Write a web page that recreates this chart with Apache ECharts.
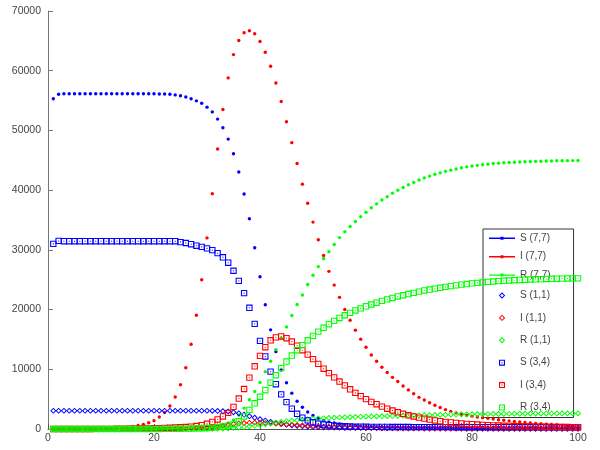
<!DOCTYPE html>
<html><head><meta charset="utf-8">
<script src="https://cdn.jsdelivr.net/npm/echarts@6/dist/echarts.min.js"></script>
<style>html,body{margin:0;padding:0;background:#fff}#c{width:600px;height:450px}</style>
</head><body><div id="c"></div>
<script>
// x positions (time steps 1..100)
const days = Array.from({length: 100}, (_, i) => i + 1);
const xTicks = [0, 20, 40, 60, 80, 100];
const yTicks = [0, 10000, 20000, 30000, 40000, 50000, 60000, 70000];
const names = ['S (7,7)', 'I (7,7)', 'R (7,7)', 'S (1,1)', 'I (1,1)', 'R (1,1)', 'S (3,4)', 'I (3,4)', 'R (3,4)'];

const S77 = [55300,56050,56150,56150,56150,56150,56150,56150,56150,56150,
56150,56150,56150,56150,56150,56150,56150,56150,56150,56150,
56100,56100,56050,55950,55800,55600,55300,54950,54550,53900,
53100,51900,50450,48550,46100,43050,39350,35200,30350,25500,
20800,16600,12950,9900,7750,6000,4650,3650,2850,2250,
1800,1450,1200,1000,850,740,650,580,520,470,
430,400,370,350,330,315,300,290,280,272,
265,260,255,250,246,242,238,235,232,229,
226,224,222,220,218,216,214,212,211,210,
209,208,207,206,205,204,203,202,201,200];

const I77 = [5,7,9,12,16,22,30,40,55,75,
100,135,180,240,320,430,580,780,1050,1400,
2000,2750,3850,5350,7400,10250,14200,19050,25000,32000,
39400,46900,53500,58800,62700,65050,66350,66700,66200,64900,
63100,60750,57950,54850,51450,47950,44450,41000,37800,34650,
31700,29050,26400,24100,22050,20000,18200,16550,15050,13700,
12400,11350,10350,9450,8650,7950,7200,6550,5900,5300,
4850,4400,3980,3600,3250,2950,2700,2480,2300,2150,
2020,1900,1780,1670,1560,1460,1360,1270,1180,1100,
1020,950,880,820,760,700,650,600,555,510];

const R77 = [0,0,0,0,0,0,0,0,0,0,
0,0,0,0,1,2,3,4,5,6,
8,10,14,20,28,40,60,90,130,200,
300,450,680,1000,1500,2350,3500,4900,6300,7800,
9600,11350,13300,15200,17100,19000,20850,22450,24200,25750,
27200,28500,29700,30900,32050,33050,33900,34750,35550,36300,
37050,37700,38350,38900,39500,40000,40450,40900,41300,41700,
42050,42350,42650,42900,43150,43350,43550,43750,43900,44050,
44150,44250,44350,44450,44520,44580,44630,44680,44720,44760,
44790,44820,44850,44870,44890,44910,44930,44940,44950,44960];

const S11 = [3060,3060,3060,3060,3060,3060,3060,3060,3060,3060,
3060,3060,3060,3060,3060,3060,3060,3060,3060,3060,
3060,3060,3060,3060,3060,3060,3060,3060,3060,3060,
3050,3030,2990,2920,2800,2620,2400,2150,1900,1650,
1420,1200,1020,860,730,620,530,460,400,350,
310,280,255,235,220,205,195,185,178,170,
165,160,156,152,149,146,143,141,139,137,
135,133,132,131,130,129,128,127,126,125,
124,123,122,121,120,120,119,119,118,118,
117,117,116,116,115,115,115,114,114,114];

const I11 = [0,0,0,0,0,0,0,0,1,1,
1,2,2,3,4,5,7,9,12,16,
20,26,34,45,60,80,110,150,200,260,
340,440,560,690,820,930,1010,1050,1060,1040,
1000,950,890,830,770,710,650,600,550,500,
460,420,385,350,320,290,265,240,220,200,
182,166,151,138,126,115,105,96,88,80,
73,67,61,56,51,47,43,39,36,33,
30,27,25,23,21,19,17,16,15,14,
13,12,11,10,9,8,8,7,7,6];

const R11 = [0,0,0,0,0,0,0,0,0,0,
0,0,0,0,0,0,0,0,0,0,
0,1,1,2,3,4,6,8,11,15,
20,40,70,110,170,240,330,440,560,690,
820,950,1070,1180,1290,1390,1480,1560,1630,1700,
1750,1800,1850,1890,1930,1960,1990,2020,2050,2080,
2100,2130,2150,2170,2190,2210,2230,2250,2270,2290,
2310,2330,2350,2370,2390,2410,2430,2450,2465,2480,
2490,2500,2510,2520,2530,2540,2550,2560,2565,2570,
2575,2580,2585,2590,2595,2600,2605,2610,2615,2620];

const S34 = [31000,31500,31450,31450,31450,31450,31450,31450,31450,31450,
31450,31450,31450,31450,31450,31450,31450,31450,31450,31450,
31450,31450,31450,31450,31300,31150,30950,30700,30500,30250,
29950,29450,28750,27850,26500,24800,22750,20300,17600,14750,
12150,9600,7500,5800,4500,3400,2550,1900,1450,1120,
900,750,640,560,500,460,430,405,385,370,
360,352,346,340,335,331,327,324,321,318,
316,314,312,310,308,306,305,304,303,302,
301,300,299,298,297,296,296,295,295,294,
294,293,293,292,292,292,291,291,291,290];

const I34 = [2,3,4,5,6,8,10,12,15,18,
22,27,33,40,48,58,70,85,100,120,
145,175,210,250,290,330,400,500,650,880,
1200,1600,2100,2700,3700,5100,6700,8600,10500,12250,
13700,14850,15350,15500,15200,14650,13950,13200,12450,11700,
10900,10100,9350,8650,7950,7300,6650,6050,5500,5000,
4550,4150,3750,3400,3100,2800,2550,2300,2100,1900,
1730,1570,1430,1310,1200,1100,1010,930,860,800,
745,695,650,610,575,545,515,490,465,445,
425,405,390,375,360,348,336,325,315,305];

const R34 = [0,0,0,0,0,0,0,0,0,0,
0,0,1,1,2,2,3,4,5,7,
10,15,20,30,40,55,75,100,130,170,
230,310,420,570,780,1300,2100,3200,4300,5400,
6500,7750,9000,10200,11300,12300,13200,14050,14850,15600,
16300,16950,17550,18100,18600,19050,19450,19850,20200,20550,
20850,21150,21450,21700,21950,22200,22400,22600,22800,23000,
23200,23350,23500,23650,23800,23930,24050,24170,24280,24380,
24470,24550,24630,24700,24760,24820,24870,24920,24960,25000,
25040,25070,25100,25130,25150,25170,25190,25210,25220,25230];

const BLUE = '#0000ff', RED = '#ff0000', GREEN = '#00ff00';
const FONT = 'Liberation Sans';

// marker shapes
const diamondSym = 'path://M5,0L10,5L5,10L0,5Z M5,2.2L2.2,5L5,7.8L7.8,5Z';
const squareSym = 'path://M0,0H10V10H0Z M1.7,1.7V8.3H8.3V1.7Z M4.2,4.2H5.8V5.8H4.2Z';
// legend icons (with tiny corner specks to keep the bounding box)
const lineIcon = 'path://M0,6.3H26V7.7H0Z M11.5,5.5H14.5V8.5H11.5Z';
const diamondIcon = 'path://M0,0h0.01v0.01h-0.01Z M14,14h-0.01v-0.01h0.01Z M7,3.8L10.2,7L7,10.2L3.8,7Z M7,5.2L5.2,7L7,8.8L8.8,7Z';
const squareIcon = 'path://M0,0h0.01v0.01h-0.01Z M14,14h-0.01v-0.01h0.01Z M4,4H10V10H4Z M5.1,5.1V8.9H8.9V5.1Z M6.5,6.5H7.5V7.5H6.5Z';

const seriesDefs = [
  [names[0], S77, 'circle', 3.4, BLUE, lineIcon],
  [names[1], I77, 'circle', 3.4, RED, lineIcon],
  [names[2], R77, 'circle', 3.4, GREEN, lineIcon],
  [names[3], S11, diamondSym, 6.2, BLUE, diamondIcon],
  [names[4], I11, diamondSym, 6.2, RED, diamondIcon],
  [names[5], R11, diamondSym, 6.2, GREEN, diamondIcon],
  [names[6], S34, squareSym, 6.4, BLUE, squareIcon],
  [names[7], I34, squareSym, 6.4, RED, squareIcon],
  [names[8], R34, squareSym, 6.4, GREEN, squareIcon]
];

const chart = echarts.init(document.getElementById('c'), null, {renderer: 'canvas'});
chart.setOption({
  animation: false,
  backgroundColor: '#fff',
  grid: {left: 48, right: 22, top: 11, bottom: 21, containLabel: false},
  xAxis: {
    type: 'value', min: xTicks[0], max: xTicks[xTicks.length - 1], interval: 20,
    splitLine: {show: false},
    axisLine: {onZero: false, lineStyle: {color: '#555', width: 1}},
    axisTick: {inside: true, length: 5, lineStyle: {color: '#555'}},
    axisLabel: {color: '#444', fontSize: 10.5, fontFamily: FONT, margin: 4}
  },
  yAxis: {
    type: 'value', min: yTicks[0], max: yTicks[yTicks.length - 1], interval: 10000,
    splitLine: {show: false},
    axisLine: {onZero: false, lineStyle: {color: '#777', width: 1}},
    axisTick: {inside: true, length: 5, lineStyle: {color: '#777'}},
    axisLabel: {color: '#444', fontSize: 10.5, fontFamily: FONT, margin: 7, formatter: v => String(v)}
  },
  legend: {
    orient: 'vertical', left: 483, top: 229, z: 1,
    padding: [4.3, 23, 3, 6],
    itemWidth: 26, itemHeight: 14, itemGap: 8.4,
    borderColor: '#333', borderWidth: 1,
    selectedMode: false,
    textStyle: {fontSize: 10, color: '#444', fontFamily: FONT},
    data: seriesDefs.map(d => ({name: d[0], icon: d[5]}))
  },
  series: seriesDefs.map(d => ({
    name: d[0], type: 'scatter', z: 5,
    data: days.map((x, i) => [x, d[1][i]]),
    symbol: d[2], symbolSize: d[3],
    itemStyle: {color: d[4], opacity: 1},
    silent: true
  }))
});
</script></body></html>
